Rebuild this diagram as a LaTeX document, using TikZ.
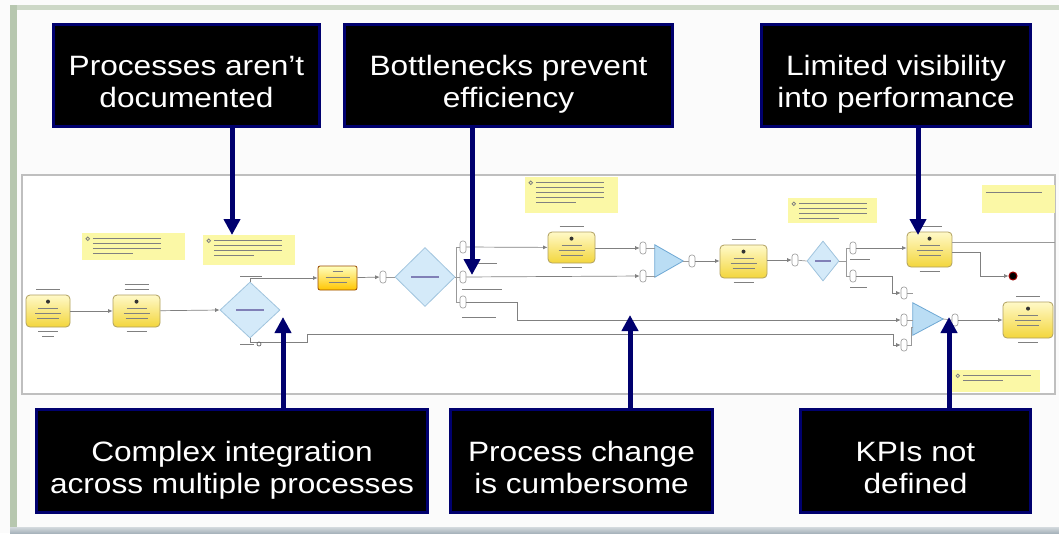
\documentclass[tikz,border=0pt]{standalone}
\usepackage{fontspec}
\usepackage{tikz}
\usetikzlibrary{arrows.meta,shapes.geometric}
\newfontfamily\calloutfont[FakeStretch=1.13]{Liberation Sans}
\definecolor{navy}{RGB}{0,0,110}
\definecolor{framegreen}{RGB}{183,199,175}
\definecolor{framegray}{RGB}{168,180,188}
\definecolor{tasklow}{RGB}{243,214,60}
\definecolor{taskhigh}{RGB}{255,249,200}
\definecolor{taskedge}{RGB}{176,160,96}
\definecolor{gatefill}{RGB}{212,234,249}
\definecolor{gateedge}{RGB}{160,196,222}
\definecolor{mergefill}{RGB}{186,221,244}
\definecolor{mergeedge}{RGB}{110,168,212}
\definecolor{notefill}{RGB}{251,248,166}
\def\scrib{\draw[scribble]}
\tikzset{
  callout/.style={draw=navy,line width=3pt,fill=black,inner sep=0pt},
  callouttext/.style={text=white,align=center,inner sep=0pt,
    font=\calloutfont\fontsize{28}{32}\selectfont},
  callarrow/.style={navy,line width=5pt,-{Triangle[length=16pt,width=16pt]}},
  task/.style={draw=taskedge,line width=0.8pt,rounded corners=4pt,
    top color=taskhigh,bottom color=tasklow,inner sep=0pt},
  gate/.style={diamond,draw=gateedge,fill=gatefill,line width=0.8pt,inner sep=0pt},
  mergebox/.style={inner sep=0pt},
  port/.style={draw=gray!80,fill=white,rounded corners=2.5pt,line width=0.6pt,
    minimum width=6pt,minimum height=12pt,inner sep=0pt},
  note/.style={fill=notefill,inner sep=0pt},
  flow/.style={draw=black!50,line width=0.7pt,-{Latex[length=4.5pt,width=4pt]}},
  wire/.style={draw=black!40,line width=0.7pt},
  scribble/.style={black!50,line width=1.2pt},
}
\begin{document}
\begin{tikzpicture}[x=1pt,y=-1pt]
\useasboundingbox (0,0) rectangle (1059,533);
% slide frame
\fill[white!97!gray] (0,0) rectangle (1059,533);
\fill[framegreen!70] (10,5) rectangle (1059,10);
\fill[framegreen] (10,5) rectangle (17,527);
\shade[top color=framegray!50,bottom color=framegray] (10,527) rectangle (1059,533);

% process model screenshot
\draw[black!25,line width=1.5pt,fill=white] (22,175) rectangle (1055,394);

% sticky notes
\node[note,minimum width=103pt,minimum height=27pt] (n1) at (133.5,246.5) {};
\node[note,minimum width=92pt,minimum height=30pt] (n2) at (249,250) {};
\node[note,minimum width=93pt,minimum height=36pt] (n3) at (571.5,195) {};
\node[note,minimum width=89pt,minimum height=25pt] (n4) at (832.5,210.5) {};
\node[note,minimum width=73pt,minimum height=28pt] (n5) at (1018.5,199) {};
\node[note,minimum width=88pt,minimum height=22pt] (n6) at (996,381) {};
\foreach \n/\k in {n1/4,n2/4,n3/5,n4/4,n6/2}{
  \draw[scribble,line width=0.8pt] ([shift={(6,6)}]\n.north west) circle (1.8pt);
  \foreach \i in {1,...,\k}
    \scrib ([shift={(11,1+5*\i)}]\n.north west) -- ++({\i==\k ? 40 : 68},0);
}
\scrib ([shift={(4,8)}]n5.north west) -- ++(56,0);

% tasks
\node[task,minimum width=44pt,minimum height=32pt] (t1) at (48,311) {};
\node[task,minimum width=47pt,minimum height=32pt] (t2) at (136.5,311) {};
\node[task,draw=orange!60!black,top color=yellow!25,bottom color=orange!45!yellow,
  rounded corners=2pt,minimum width=39pt,minimum height=24pt] (t3) at (337.5,278) {};
\node[task,minimum width=47pt,minimum height=31pt] (t4) at (571.5,247.5) {};
\node[task,minimum width=47pt,minimum height=33pt] (t5) at (743.5,261.5) {};
\node[task,minimum width=45pt,minimum height=35pt] (t6) at (929.5,249.5) {};
\node[task,minimum width=50pt,minimum height=36pt] (t7) at (1028,320) {};
\foreach \t in {t1,t2,t4,t5,t6,t7}{
  \fill[black!80] ([yshift=-7pt]\t.north) circle (2pt);
  \scrib ([shift={(-10,14)}]\t.north) -- ++(20,0);
  \scrib ([shift={(-13,19)}]\t.north) -- ++(26,0);
  \scrib ([shift={(-11,24)}]\t.north) -- ++(22,0);
  \scrib[line width=0.9pt] ([shift={(-12,-5)}]\t.north) -- ++(24,0);
  \scrib[line width=0.9pt] ([shift={(-10,4)}]\t.south) -- ++(20,0);
}
\scrib[line width=0.9pt] ([shift={(-12,-10)}]t2.north) -- ++(24,0);
\scrib[line width=0.9pt] ([shift={(-6,9)}]t1.south) -- ++(12,0);
\scrib ([shift={(-5,6)}]t3.north) -- ++(10,0);
\scrib ([shift={(-12,12)}]t3.north) -- ++(24,0);
\scrib ([shift={(-9,17)}]t3.north) -- ++(18,0);

% gateways
\node[gate,minimum width=60pt,minimum height=56pt] (g1) at (250,310) {};
\node[gate,minimum width=60pt,minimum height=59pt] (g2) at (425,277) {};
\node[gate,minimum width=32pt,minimum height=40pt] (g3) at (823,261) {};
\scrib[navy!50] ([xshift=-14pt]g1.center) -- ++(28,0);
\scrib[navy!50] ([xshift=-14pt]g2.center) -- ++(28,0);
\scrib[navy!50] ([xshift=-8pt]g3.center) -- ++(16,0);

% merges
\node[mergebox,minimum width=28pt,minimum height=32pt] (m1) at (669,261) {};
\node[mergebox,minimum width=30pt,minimum height=32pt] (m2) at (928,319) {};
\foreach \m in {m1,m2}
  \draw[fill=mergefill,draw=mergeedge,line width=0.8pt]
    (\m.north west) -- (\m.east) -- (\m.south west) -- cycle;

% ports
\node[port] (p1) at (383,277) {};
\node[port] (p2) at (795,260) {};
\node[port] (s1) at (463,247) {};
\node[port] (s2) at (463,277) {};
\node[port] (s3) at (463,302) {};
\node[port] (s4) at (853,248) {};
\node[port] (s5) at (853,276) {};
\node[port] (q1) at (643,248) {};
\node[port] (q2) at (643,276) {};
\node[port] (q3) at (692,261) {};
\node[port] (r1) at (904,293) {};
\node[port] (r2) at (904,320) {};
\node[port] (r3) at (904,345) {};
\node[port] (r4) at (955,320) {};
\node[circle,fill=black,draw=red!60!black,line width=1pt,minimum size=8pt,
  inner sep=0pt] (end) at (1013,276) {};
\coordinate (exit) at (1055,242.5);

% sequence flows
\draw[flow] (t1) -- (t2);
\draw[flow] (t2) -- (g1.west);
\draw[flow] (g1.north) |- (t3.west);
\draw[flow] (g1.south) |- (307,342) -- (307,334) -| (893,345) -- (r3.west);
\draw[flow] (t3) -- (p1);
\draw[wire] (p1) -- (g2.west);
\draw[wire] (g2.east) -- (s2.west);
\draw[wire] (s1.west) -- ++(-3,0) |- (s3.west);
\draw[flow] (s1) -- (t4);
\draw[flow] (s2) -- (q2);
\draw[flow] (s3.east) -| (517,320) -- (r2.west);
\draw[flow] (t4.east |- q1) -- (q1);
\draw[wire] (q1.east) -- (q1.east -| m1.west);
\draw[wire] (q2.east) -- (q2.east -| m1.west);
\draw[wire] (m1.east) -- (q3.west);
\draw[flow] (q3) -- (t5.west |- q3);
\draw[flow] (t5.east |- p2) -- (p2);
\draw[wire] (p2) -- (g3.west);
\draw[wire] (g3.east) -- ++(8,0);
\draw[wire] (s4.west) -- ++(-3,0) |- (s5.west);
\draw[flow] (s4) -- (t6.west |- s4);
\draw[flow] (s5.east) -| (892,293) -- (r1.west);
\draw[wire] (t6.east |- exit) -- (exit);
\draw[flow] ([yshift=-3pt]t6.east) -| (980,276) -- (end);
\draw[wire] (r1.east) -- (r1.east -| m2.west);
\draw[wire] (r2.east) -- (r2.east -| m2.west);
\draw[wire] (r3.east) -- ++(4,0) |- ([yshift=-8pt]m2.west);
\draw[wire] (m2.east) -- (r4.west);
\draw[flow] (r4) -- (t7);

% flow labels
\scrib[line width=0.9pt] (240,276) -- ++(22,0);
\scrib[line width=0.9pt] (240,344) -- ++(14,0);
\draw[black!60,line width=0.7pt] (259,344) circle (2pt);
\scrib[line width=0.9pt] (477,263) -- ++(20,0);
\scrib[line width=0.9pt] (462,289) -- ++(40,0);
\scrib[line width=0.9pt] (462,317) -- ++(34,0);
\scrib[line width=0.9pt] (850,259) -- ++(20,0);
\scrib[line width=0.9pt] (850,287) -- ++(17,0);

% callouts
\node[callout,minimum width=266pt,minimum height=102pt] (docs) at (186.5,75.5) {};
\node[callout,minimum width=328pt,minimum height=102pt] (bottle) at (508.5,75.5) {};
\node[callout,minimum width=269pt,minimum height=102pt] (visib) at (896,75.5) {};
\node[callout,minimum width=391pt,minimum height=103pt] (integ) at (232,461) {};
\node[callout,minimum width=262pt,minimum height=103pt] (change) at (581.5,461) {};
\node[callout,minimum width=230pt,minimum height=103pt] (kpi) at (915.5,461) {};
\node[callouttext,yshift=-10pt] (docs-t) at (docs) {\strut Processes aren’t\\documented\strut};
\node[callouttext,yshift=-10pt] (bottle-t) at (bottle) {\strut Bottlenecks prevent\\efficiency\strut};
\node[callouttext,yshift=-10pt] (visib-t) at (visib) {\strut Limited visibility\\into performance\strut};
\node[callouttext,yshift=-10pt] (integ-t) at (integ) {\strut Complex integration\\across multiple processes\strut};
\node[callouttext,yshift=-10pt] (change-t) at (change) {\strut Process change\\is cumbersome\strut};
\node[callouttext,yshift=-10pt] (kpi-t) at (kpi) {\strut KPIs not\\defined\strut};

% callout arrows
\coordinate (docs-tip) at (232,235);
\coordinate (bottle-tip) at (472,275);
\coordinate (visib-tip) at (918,235);
\coordinate (integ-tip) at (283,317);
\coordinate (change-tip) at (630,315);
\coordinate (kpi-tip) at (949,317);
\draw[callarrow] (docs-tip |- docs.south) -- (docs-tip);
\draw[callarrow] (bottle-tip |- bottle.south) -- (bottle-tip);
\draw[callarrow] (visib-tip |- visib.south) -- (visib-tip);
\draw[callarrow] (integ-tip |- integ.north) -- (integ-tip);
\draw[callarrow] (change-tip |- change.north) -- (change-tip);
\draw[callarrow] (kpi-tip |- kpi.north) -- (kpi-tip);
\end{tikzpicture}
\end{document}
